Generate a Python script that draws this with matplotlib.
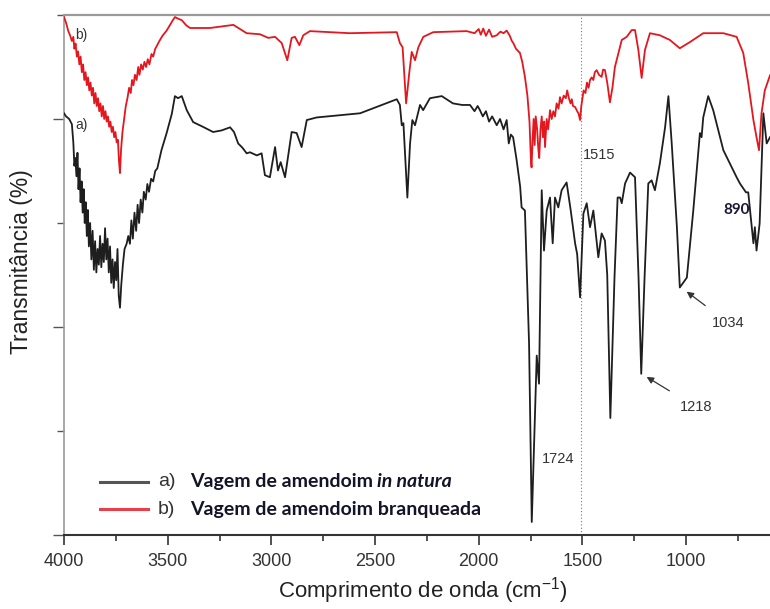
import matplotlib
matplotlib.use("Agg")
import matplotlib.pyplot as plt
from matplotlib.ticker import MultipleLocator

plt.rcParams["mathtext.fontset"] = "custom"
plt.rcParams["mathtext.rm"] = "Liberation Sans"
plt.rcParams["mathtext.it"] = "Liberation Sans:italic"
plt.rcParams["mathtext.default"] = "rm"

# ---- data (wavenumber cm-1, transmittance arbitrary units) ----
wn_a = [4000, 3990, 3975, 3962, 3955, 3950, 3945, 3940, 3935, 3930, 3925, 3920, 3915, 3910,
        3905, 3900, 3895, 3890, 3885, 3880, 3874, 3868, 3862, 3856, 3850, 3844, 3838, 3832,
        3826, 3820, 3814, 3808, 3802, 3796, 3790, 3784, 3778, 3772, 3766, 3760, 3754, 3748,
        3742, 3736, 3730, 3724, 3716, 3708, 3698, 3690, 3682, 3675, 3668, 3660, 3652, 3645,
        3638, 3630, 3622, 3615, 3606, 3598, 3590, 3580, 3570, 3560, 3550, 3530, 3505, 3480,
        3465, 3450, 3432, 3408, 3377, 3330, 3281, 3240, 3199, 3180, 3160, 3140, 3119, 3103,
        3070, 3047, 3031, 3007, 2982, 2968, 2955, 2934, 2902, 2878, 2854, 2829, 2781, 2572,
        2395, 2380, 2371, 2363, 2344, 2331, 2320, 2307, 2283, 2268, 2235, 2178, 2124, 2080,
        2042, 2020, 2005, 1994, 1980, 1965, 1950, 1935, 1913, 1897, 1880, 1865, 1855, 1845,
        1834, 1817, 1800, 1793, 1777, 1757, 1744, 1720, 1709, 1696, 1685, 1672, 1656, 1643,
        1632, 1616, 1600, 1576, 1556, 1535, 1525, 1511, 1495, 1479, 1463, 1447, 1423, 1407,
        1391, 1380, 1365, 1345, 1330, 1318, 1310, 1294, 1270, 1246, 1229, 1216, 1200, 1182,
        1166, 1150, 1126, 1101, 1085, 1069, 1044, 1030, 996, 965, 933, 925, 917, 893, 869,
        820, 756, 740, 711, 700, 675, 668, 660, 645, 627, 611, 595]
t_a = [81.1, 80.5, 80.0, 79.0, 75.5, 71.0, 72.5, 69.0, 73.5, 66.5, 70.5, 64.0, 68.0, 62.0,
       66.5, 60.0, 64.0, 57.5, 62.5, 55.5, 60.0, 53.0, 58.5, 51.0, 56.5, 50.5, 55.0, 52.0,
       57.5, 51.5, 56.0, 52.5, 59.0, 53.0, 57.0, 50.5, 55.5, 48.5, 53.0, 47.5, 52.5, 49.0,
       55.0, 46.0, 43.7, 48.0, 52.0, 55.0, 56.0, 57.5, 56.0, 60.5, 57.0, 62.0, 58.5, 63.5,
       60.0, 64.5, 62.0, 66.0, 64.5, 67.5, 66.0, 68.5, 68.0, 70.0, 70.5, 74.0, 77.3, 81.0,
       84.4, 84.0, 84.4, 81.7, 79.4, 78.5, 77.5, 77.8, 78.4, 77.5, 75.3, 74.5, 73.4, 73.6,
       73.0, 73.4, 69.2, 68.8, 74.6, 70.1, 71.7, 68.8, 77.5, 77.3, 74.6, 79.8, 80.3, 81.1,
       83.8, 82.7, 78.8, 79.2, 64.9, 75.3, 79.8, 78.8, 82.7, 81.7, 84.0, 84.4, 83.0, 82.7,
       82.7, 81.5, 82.5, 81.7, 80.5, 81.5, 79.5, 80.5, 78.8, 80.0, 78.0, 79.8, 75.3, 77.0,
       76.5, 72.1, 67.0, 63.0, 62.4, 36.8, 2.5, 34.5, 29.1, 66.3, 54.7, 62.4, 64.9, 56.1,
       64.9, 63.0, 66.3, 67.8, 62.4, 56.1, 54.0, 45.7, 61.8, 63.8, 59.2, 62.4, 53.4, 58.0,
       56.6, 50.0, 22.5, 49.5, 64.9, 64.9, 63.8, 67.6, 69.7, 68.8, 49.5, 31.0, 49.5, 67.6,
       68.2, 66.3, 71.5, 78.4, 84.4, 75.3, 59.2, 47.6, 49.5, 62.4, 77.3, 76.5, 80.3, 84.4, 81.7,
       74.0, 68.8, 67.6, 65.9, 65.9, 56.1, 59.2, 54.7, 59.9, 81.1, 75.3, 76.5]

wn_b = [4000, 3990, 3980, 3970, 3962, 3955, 3950, 3944, 3938, 3932, 3926, 3920, 3914, 3908,
        3902, 3896, 3890, 3884, 3878, 3872, 3866, 3860, 3854, 3848, 3842, 3836, 3830, 3824,
        3818, 3812, 3806, 3800, 3794, 3788, 3782, 3776, 3770, 3764, 3758, 3752, 3746, 3740,
        3735, 3730, 3725, 3718, 3710, 3702, 3694, 3686, 3678, 3672, 3665, 3658, 3650, 3642,
        3636, 3628, 3620, 3612, 3604, 3596, 3588, 3578, 3570, 3560, 3553, 3540, 3525, 3505,
        3490, 3475, 3465, 3450, 3432, 3410, 3392, 3296, 3183, 3119, 3055, 3015, 2982, 2950,
        2923, 2902, 2886, 2865, 2846, 2814, 2621, 2395, 2380, 2367, 2350, 2335, 2323, 2307,
        2291, 2267, 2219, 2058, 2020, 2000, 1990, 1978, 1965, 1950, 1935, 1913, 1895, 1880,
        1865, 1850, 1840, 1833, 1820, 1801, 1790, 1777, 1765, 1755, 1748, 1745, 1740, 1735,
        1730, 1725, 1718, 1712, 1708, 1702, 1696, 1690, 1684, 1680, 1672, 1665, 1656, 1648,
        1640, 1632, 1624, 1615, 1608, 1600, 1590, 1580, 1573, 1565, 1557, 1551, 1545, 1535,
        1525, 1518, 1511, 1505, 1494, 1485, 1478, 1470, 1463, 1455, 1447, 1440, 1431, 1420,
        1407, 1400, 1391, 1380, 1367, 1355, 1343, 1310, 1286, 1262, 1246, 1230, 1214, 1198,
        1174, 1126, 1078, 1030, 981, 917, 820, 756, 724, 700, 675, 660, 648, 636, 620, 595]
t_b = [99.6, 98.5, 97.0, 96.0, 95.0, 95.8, 93.5, 94.5, 92.0, 93.0, 90.5, 92.0, 89.0, 90.5,
       87.5, 89.0, 86.5, 88.0, 85.5, 87.0, 84.5, 86.0, 83.0, 85.0, 82.5, 84.0, 81.5, 83.0,
       80.5, 82.5, 80.0, 81.5, 79.5, 80.5, 78.5, 79.5, 77.5, 78.5, 76.5, 77.5, 75.5, 76.0,
       72.0, 69.6, 74.0, 77.5, 80.0, 82.5, 84.0, 86.0, 85.0, 87.5, 86.5, 88.5, 87.5, 90.0,
       88.5, 90.5, 89.5, 91.0, 90.0, 91.5, 90.5, 92.5, 92.0, 93.5, 94.0, 95.0, 96.0, 97.0,
       98.0, 99.0, 99.6, 99.3, 99.0, 98.0, 97.5, 97.5, 98.1, 96.5, 96.3, 95.6, 95.8, 94.6,
       91.3, 95.6, 95.8, 94.2, 96.1, 96.9, 96.5, 96.7, 94.6, 93.8, 83.0, 88.8, 92.9, 91.3,
       93.8, 95.8, 96.7, 96.9, 96.5, 97.3, 96.2, 97.4, 96.0, 97.2, 95.8, 96.1, 96.8, 96.5,
       97.0, 96.0, 95.0, 94.6, 93.5, 92.7, 91.0, 88.1, 84.5, 79.5, 72.0, 70.7, 76.0, 80.0,
       75.0, 80.5, 78.0, 74.0, 72.5, 78.0, 80.5, 76.5, 79.5, 74.6, 80.0, 78.0, 81.7, 80.0,
       81.5, 80.5, 83.0, 82.0, 84.2, 83.0, 84.5, 84.0, 85.5, 84.0, 83.0, 83.8, 82.5, 82.3,
       81.5, 81.0, 79.8, 82.5, 85.5, 85.0, 87.0, 86.0, 87.5, 88.0, 87.5, 89.0, 89.4, 88.5,
       88.1, 89.5, 89.4, 87.0, 83.2, 86.0, 90.0, 95.2, 95.8, 97.1, 97.1, 93.3, 87.9, 93.3,
       96.5, 96.1, 95.2, 93.6, 94.8, 96.5, 96.5, 95.8, 92.7, 86.9, 79.8, 76.5, 74.0, 81.1, 85.5, 88.4]

label_a = "Vagem de amendoim "
label_a_it = "in natura"
label_b = "Vagem de amendoim branqueada"
peak_labels = ["1515", "1724", "1218", "1034", "890"]

W, H = 770, 609
fig = plt.figure(figsize=(W / 100, H / 100), dpi=100)
ax = fig.add_axes([64 / W, (H - 535) / H, (W - 64) / W, 520 / H])

ax.plot(wn_a, t_a, color="#1e1e1e", lw=1.3, zorder=3)
ax.plot(wn_b, t_b, color="#e4161e", lw=1.3, zorder=3)

ax.set_xlim(4000, 595)
ax.set_ylim(0, 100)
ax.axvline(1508, color="#777777", lw=0.8, ls=(0, (1, 2)), zorder=1)

ax.xaxis.set_major_locator(MultipleLocator(500))
ax.xaxis.set_minor_locator(MultipleLocator(250))
ax.yaxis.set_major_locator(MultipleLocator(40))
ax.yaxis.set_minor_locator(MultipleLocator(20))
ax.set_yticklabels([])
ax.tick_params(axis="x", which="major", length=7, width=1.2, color="#333333",
               labelsize=13, labelcolor="#333333", pad=6)
ax.tick_params(axis="x", which="minor", length=4, width=1.2, color="#333333")
ax.tick_params(axis="y", which="major", length=8, width=1.0, color="#555555")
ax.tick_params(axis="y", which="minor", length=5, width=1.0, color="#555555")
for lab in ax.get_xticklabels():
    lab.set_fontfamily("Liberation Sans")

ax.spines["right"].set_visible(False)
ax.spines["top"].set_color("#9a9a9a")
ax.spines["top"].set_linewidth(1.6)
ax.spines["left"].set_color("#9a9a9a")
ax.spines["left"].set_linewidth(1.2)
ax.spines["bottom"].set_color("#333333")
ax.spines["bottom"].set_linewidth(1.5)

fs = dict(fontfamily="Liberation Sans", color="#333333")
ax.text(3947, 78.8, "a)", fontsize=10, va="center", ha="left", **fs)
ax.text(3947, 96.2, "b)", fontsize=10, va="center", ha="left", **fs)
ax.text(1497, 73.1, peak_labels[0], fontsize=10.5, va="center", ha="left", **fs)
ax.text(1697, 14.6, peak_labels[1], fontsize=10.5, va="center", ha="left", **fs)
ax.annotate(peak_labels[2], xy=(1190, 30.4), xytext=(1030, 24.6), fontsize=10.5,
            va="center", ha="left", **fs,
            arrowprops=dict(arrowstyle="-|>", color="#333333", lw=0.9,
                            shrinkA=9, shrinkB=0, mutation_scale=10))
ax.annotate(peak_labels[3], xy=(997, 46.8), xytext=(875, 40.8), fontsize=10.5,
            va="center", ha="left", **fs,
            arrowprops=dict(arrowstyle="-|>", color="#333333", lw=0.9,
                            shrinkA=9, shrinkB=0, mutation_scale=10))
ax.text(822, 62.5, peak_labels[4], fontsize=11, fontweight="bold", fontfamily="Lato",
        color="#1a1a33", va="center", ha="left")

# legend drawn manually
tr = ax.transAxes
ax.plot([0.051, 0.119], [0.102, 0.102], color="#555555", lw=2.2, transform=tr, clip_on=False)
ax.plot([0.051, 0.119], [0.050, 0.050], color="#e8404a", lw=2.2, transform=tr, clip_on=False)
ax.text(0.133, 0.102, "a)", transform=tr, fontsize=14, va="center", ha="left", **fs)
ax.text(0.133, 0.050, "b)", transform=tr, fontsize=14, va="center", ha="left", **fs)
ta = ax.text(0.178, 0.102, label_a, transform=tr, fontsize=14, fontweight="bold",
             fontfamily="Lato", color="#141428", va="center", ha="left")
fig.canvas.draw()
bb = ta.get_window_extent()
x_end = ax.transAxes.inverted().transform((bb.x1, bb.y0))[0]
ax.text(x_end, 0.102, label_a_it, transform=tr, fontsize=14, fontweight="bold",
        fontstyle="italic", fontfamily="Lato", color="#141428", va="center", ha="left")
ax.text(0.178, 0.050, label_b, transform=tr, fontsize=14, fontweight="bold",
        fontfamily="Lato", color="#141428", va="center", ha="left")

fig.text(423 / W, 1 - 591 / H, "Comprimento de onda (cm$^{\\mathregular{-1}}$)", fontsize=16,
         ha="center", va="center", fontfamily="Liberation Sans", color="#222222")
fig.text(22 / W, 1 - 262 / H, "Transmitância (%)", fontsize=16.5, rotation=90,
         ha="center", va="center", fontfamily="Liberation Sans", color="#222222")

fig.savefig("out.png", dpi=100)
